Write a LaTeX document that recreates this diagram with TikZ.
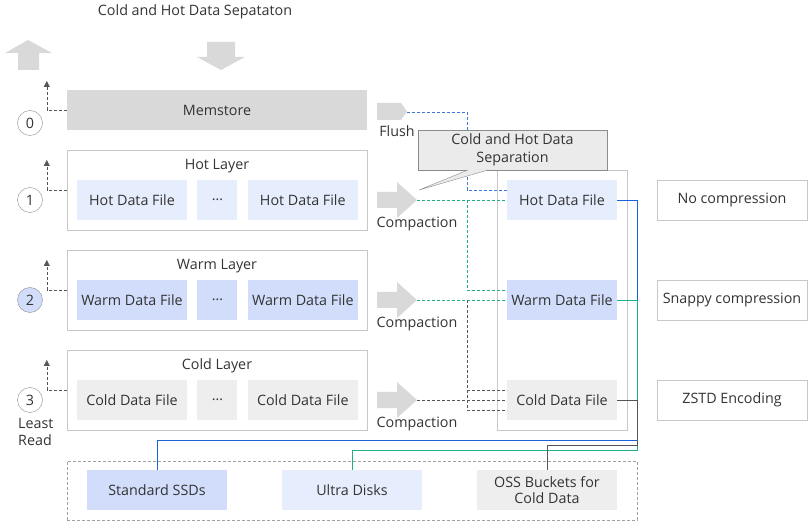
\documentclass[tikz,border=0pt]{standalone}
\usepackage{fontspec}
\setmainfont{Open Sans}
\usepackage{xcolor}
\usetikzlibrary{arrows.meta,positioning,calc}
\definecolor{txt}{HTML}{333333}
\definecolor{boxline}{HTML}{C8C8C8}
\definecolor{hotfill}{HTML}{E6EDFD}
\definecolor{warmfill}{HTML}{D2DDFB}
\definecolor{coldfill}{HTML}{EEEEEE}
\definecolor{memfill}{HTML}{D9D9D9}
\definecolor{sepfill}{HTML}{EBEBEB}
\definecolor{sepline}{HTML}{8C8C8C}
\definecolor{bluedash}{HTML}{3C78D8}
\definecolor{blueline}{HTML}{1A62DB}
\definecolor{greenline}{HTML}{1DB088}
\definecolor{grayline}{HTML}{555555}

\begin{document}
\begin{tikzpicture}[x=1pt, y=-1pt, font=\fontsize{14.3}{17}\selectfont, text=txt,
  layer/.style={draw=boxline, minimum width=300pt, minimum height=80pt, inner sep=0pt},
  file/.style={minimum width=110pt, minimum height=40pt, inner sep=0pt},
  dots/.style={minimum width=40pt, minimum height=40pt, inner sep=0pt},
  disk/.style={minimum width=140pt, minimum height=40pt, inner sep=0pt, align=center},
  codec/.style={draw=boxline, fill=white, minimum width=150pt, minimum height=40pt, inner sep=0pt},
  num/.style={circle, draw=sepline, minimum size=25pt, inner sep=0pt},
  uparr/.style={-{Triangle[length=6pt, width=6pt]}, dashed, dash pattern=on 3pt off 2pt, grayline},
  dline/.style={dashed, dash pattern=on 3pt off 2pt},
  bigarr/.style={fill=memfill, draw=none}]
\useasboundingbox (0,0) rectangle (809,521);

% top
\node (title) at (195,12) {Cold and Hot Data Sepataton};
\fill[bigarr] (18,70) -- (18,53) -- (5,53) -- (28,40) -- (52,53) -- (39,53) -- (39,70) -- cycle;
\fill[bigarr] (207,42) -- (207,57) -- (197,57) -- (221,70) -- (245,57) -- (235,57) -- (235,42) -- cycle;

% memstore and layers
\node[fill=memfill, minimum width=300pt, minimum height=40pt] (mem) at (217,110) {Memstore};
\node[layer] (hot) at (217,190) {};
\node[layer] (warm) at (217,290) {};
\node[layer] (cold) at (217,390) {};
\node (hottitle) at (217,166) {Hot Layer};
\node (warmtitle) at (217,266) {Warm Layer};
\node (coldtitle) at (217,366) {Cold Layer};

\node[file, fill=hotfill] (h1) at (132,200) {Hot Data File};
\node[dots, fill=hotfill, right=10pt of h1] (hd) {\ldots};
\node[file, fill=hotfill, right=10pt of hd] (h2) {Hot Data File};
\node[file, fill=warmfill] (w1) at (132,300) {Warm Data File};
\node[dots, fill=warmfill, right=10pt of w1] (wd) {\ldots};
\node[file, fill=warmfill, right=10pt of wd] (w2) {Warm Data File};
\node[file, fill=coldfill] (c1) at (132,400) {Cold Data File};
\node[dots, fill=coldfill, right=10pt of c1] (cd) {\ldots};
\node[file, fill=coldfill, right=10pt of cd] (c2) {Cold Data File};

% levels
\node[num] (n0) at (30,123) {0};
\node[num] (n1) at (30,200) {1};
\node[num, fill=warmfill] (n2) at (30,300) {2};
\node[num] (n3) at (30,400) {3};
\node[align=left, anchor=north west, inner sep=0pt, font=\fontsize{14.3}{17.5}\selectfont] (least) at (18,418) {Least\\Read};
\draw[uparr] (mem.west) -- ++(-20,0) -- ++(0,-29);
\draw[uparr] (hot.west) -- ++(-20,0) -- ++(0,-30);
\draw[uparr] (warm.west) -- ++(-20,0) -- ++(0,-30);
\draw[uparr] (cold.west) -- ++(-20,0) -- ++(0,-30);

% flush and compaction
\fill[bigarr] (377,103) -- (401,103) -- (407,111.5) -- (401,120) -- (377,120) -- cycle;
\coordinate (flush) at (407,112);
\node (flushlbl) at (397,131) {Flush};
\foreach \y/\n in {200/1,300/2,400/3} {
  \fill[bigarr] (377,\y-8) -- (397,\y-8) -- (397,\y-18) -- (417,\y) -- (397,\y+18) -- (397,\y+8) -- (377,\y+8) -- cycle;
  \coordinate (cmp\n) at (417,\y);
  \node at (417,\y+24) {Compaction};
}

% stored files
\node[draw=boxline, minimum width=130pt, minimum height=260pt] (store) at (562,300) {};
\node[file, fill=hotfill] (hfr) at (562,200) {Hot Data File};
\node[file, fill=warmfill] (wfr) at (562,300) {Warm Data File};
\node[file, fill=coldfill] (cfr) at (562,400) {Cold Data File};

\draw[dline, bluedash] (flush) -| ($(hfr.west)+(-40,-10)$) -- ($(hfr.west)+(0,-10)$);
\draw[dline, greenline] (cmp1) -- (hfr.west);
\draw[dline, greenline] ($(hfr.west)+(-40,0)$) |- ($(wfr.west)+(0,-10)$);
\draw[dline, greenline] (cmp2) -- (wfr.west);
\draw[dline, grayline] ($(wfr.west)+(-40,0)$) |- ($(cfr.west)+(0,10)$);
\draw[dline, grayline] ($(cfr.west)+(-40,-10)$) -- ($(cfr.west)+(0,-10)$);
\draw[dline, grayline] (cmp3) -- (cfr.west);

% callout
\node[draw=sepline, fill=sepfill, minimum width=189pt, minimum height=40pt, inner sep=0pt, align=center, font=\fontsize{14.3}{17.5}\selectfont] (sep) at (512.5,150) {Cold and Hot Data\\Separation};
\filldraw[draw=sepline, fill=sepfill] (468,170) -- (419,190) -- (488,170);

% codecs
\node[codec] (nocomp) at (732,200) {No compression};
\node[codec] (snappy) at (732,300) {Snappy compression};
\node[codec] (zstd) at (732,400) {ZSTD Encoding};

% disks
\node[draw=boxline!80!black, dashed, dash pattern=on 3pt off 2pt, minimum width=570pt, minimum height=59pt] (disks) at (352,490.5) {};
\node[disk, fill=warmfill] (ssd) at (157,490) {Standard SSDs};
\node[disk, fill=hotfill] (ultra) at (352,490) {Ultra Disks};
\node[disk, fill=coldfill, font=\fontsize{14.3}{16}\selectfont] (oss) at (547,490) {OSS Buckets for\\Cold Data};

\draw[blueline] (hfr.east) -| (637,440) -| (ssd.north);
\draw[greenline] (wfr.east) -| (637,450) -| (ultra.north);
\draw[grayline] (cfr.east) -| (637,445) -| (oss.north);
\end{tikzpicture}
\end{document}
